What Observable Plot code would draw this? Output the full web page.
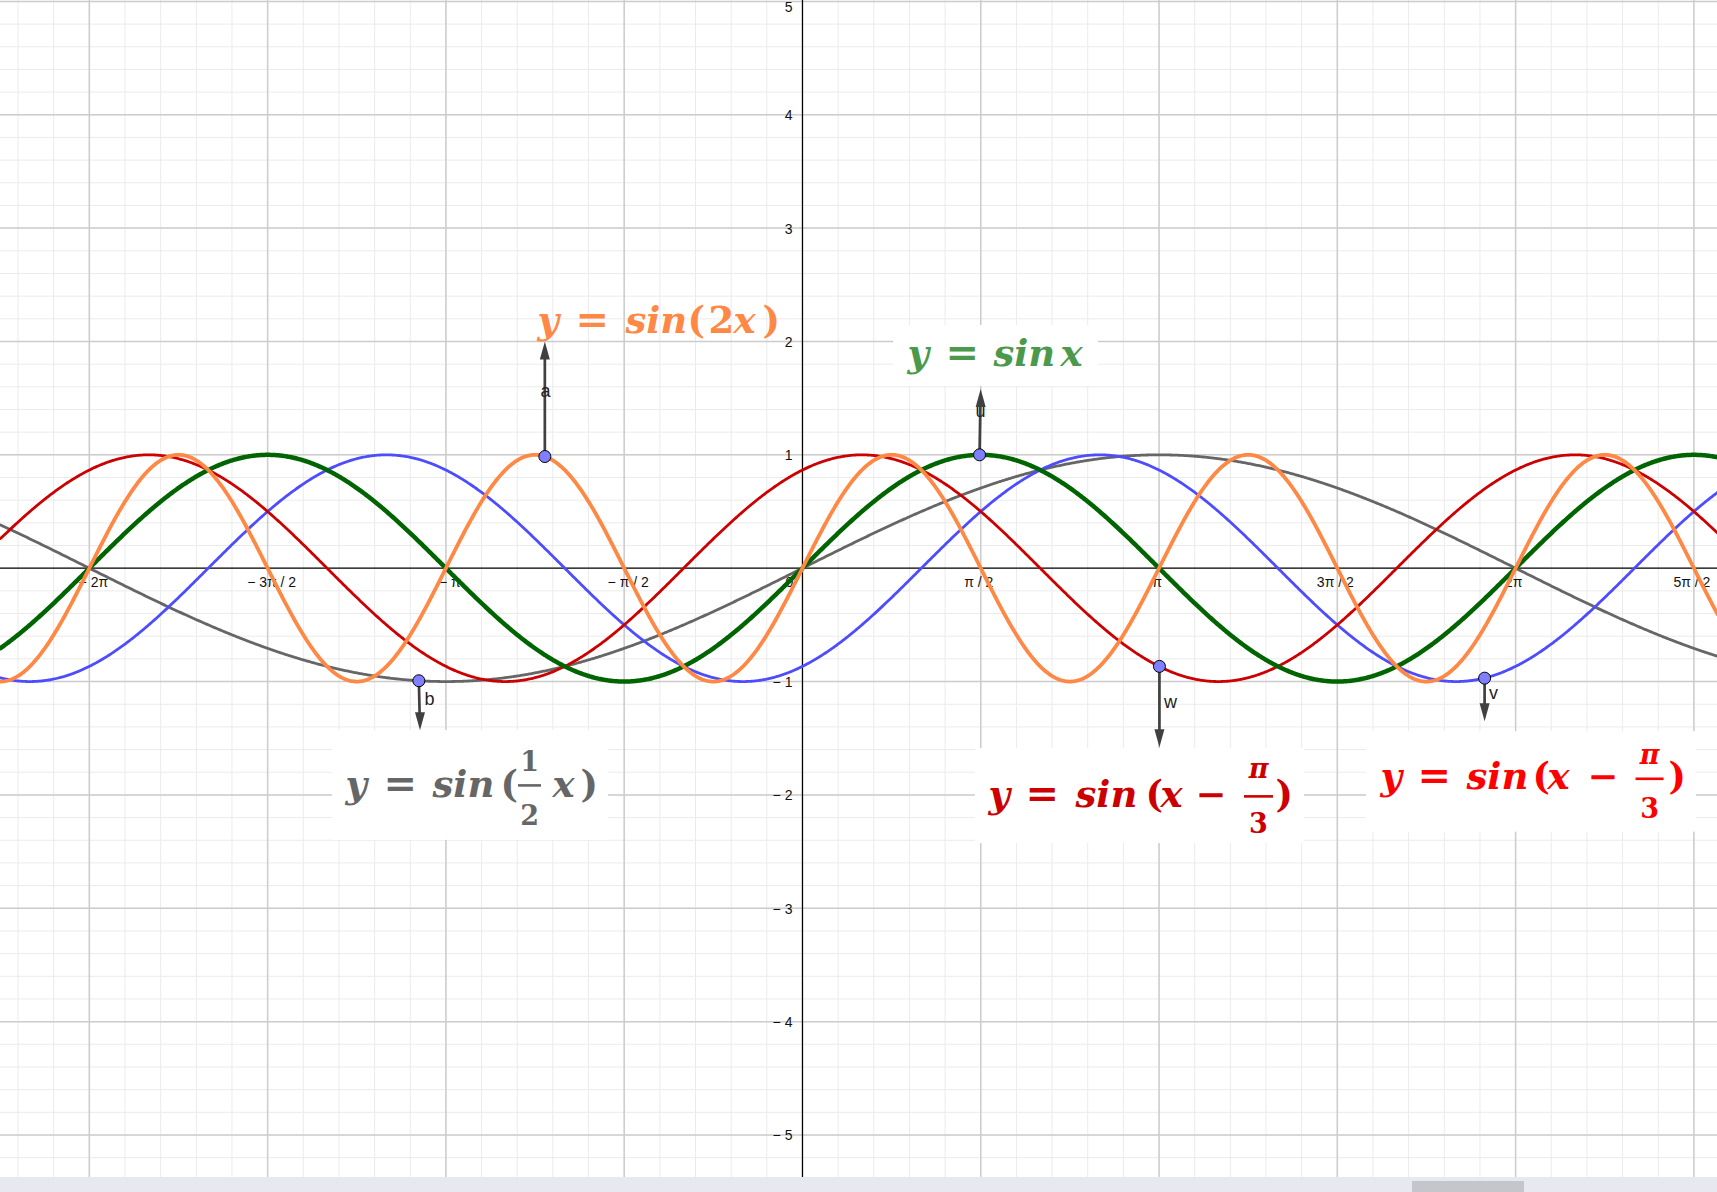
<!DOCTYPE html>
<html><head><meta charset="utf-8">
<script src="https://cdn.jsdelivr.net/npm/d3@7"></script>
<script src="https://cdn.jsdelivr.net/npm/@observablehq/plot@0.6"></script>
<style>
html,body{margin:0;padding:0;background:#fff;overflow:hidden}
#chart svg{display:block}
#bar{position:relative;height:15px;background:#e8e8f0}
#thumb{position:absolute;left:1412px;top:4px;width:112px;height:11px;background:#c5c6cc}
</style></head><body>
<div id="chart"></div><div id="bar"><div id="thumb"></div></div>
<script>
// ---------- data ----------
const curveNames  = ["y = sin(x/2)", "y = sin(x − π/3)", "y = sin(x + π/3)", "y = sin x", "y = sin(2x)"];
const curveFreq   = [0.5, 1, 1, 1, 2];
const curvePhase  = [0, -Math.PI / 3, Math.PI / 3, 0, 0];

const xTickHalfPi = [-4, -3, -2, -1, 1, 2, 3, 4, 5];
const xTickLabels = ["− 2π", "− 3π / 2", "− π", "− π / 2", "π / 2", "π", "3π / 2", "2π", "5π / 2"];
const yTickValues = [4, 3, 2, 1, -1, -2, -3, -4, -5];
const yTickLabels = ["4", "3", "2", "1", "− 1", "− 2", "− 3", "− 4", "− 5"];
const yTopValue = 5;
const yTopLabel = "5";

const vecNames  = ["a", "u", "b", "w", "v"];
const vecX1     = [-2.27, 1.56, -3.38, 3.145, 6.01];
const vecY1     = [0.985, 1.0, -0.993, -0.866, -0.97];
const vecX2     = [-2.27, 1.57, -3.37, 3.145, 6.01];
const vecY2     = [2.0, 1.58, -1.43, -1.58, -1.35];
const vecLabelX = [-2.264, 1.568, -3.286, 3.242, 6.088];
const vecLabelY = [1.559, 1.381, -1.154, -1.182, -1.105];

const formulaTexts = ["y = sin(2x)", "y = sinx", "y = sin(½x)", "y = sin(x − π/3)", "y = sin(x − π/3)"];
const formulaX = [-2.335, 0.925, -4.026, 1.639, 5.093];
const formulaY = [2.071, 1.786, -2.022, -2.110, -1.946];

const boxX1 = [0.802, -4.141, 1.524, 4.969];
const boxX2 = [2.608, -1.709, 4.423, 7.877];
const boxY1 = [1.603, -2.401, -2.429, -2.328];
const boxY2 = [2.141, -1.431, -1.591, -1.442];

// ---------- styles ----------
const curveColors = ["#666666", "#4d4dff", "#cc0000", "#006400", "#ff8845"];
const curveWidths = [2.8, 2.8, 2.8, 4.5, 3.8];
const formulaColors = ["#ff8845", "#4c994c", "#666666", "#cc0000", "#ff0000"];

// piece layouts: [text, dx, dy, kind, width]; kind: i italic, u upright, ni/nu numerator, di/du denominator, bar
const formulaLayouts = [
  [["y",0,0,"i"],["=",38,0,"u"],["sin",88,0,"i"],["(",150,0,"u"],["2",171,0,"u"],["x",196,0,"i"],[")",225,0,"u"]],
  [["y",0,0,"i"],["=",38,0,"u"],["sin",86,0,"i"],["x",153,0,"i"]],
  [["y",0,0,"i"],["=",38,0,"u"],["sin",87,0,"i"],["(",155,0,"u"],["1",184,-26,"nu"],["",184,-12,"bar",23],["2",184,28,"du"],["x",207,0,"i"],[")",235,0,"u"]],
  [["y",0,0,"i"],["=",37,0,"u"],["sin",87,0,"i"],["(",157,0,"u"],["x",172,0,"i"],["−",207,0,"u"],["π",270,-29,"ni"],["",270,-11,"bar",29],["3",270,26,"du"],[")",287,0,"u"]],
  [["y",0,0,"i"],["=",37,0,"u"],["sin",86,0,"i"],["(",152,0,"u"],["x",167,0,"i"],["−",207,0,"u"],["π",269,-25,"ni"],["",269,-10,"bar",28],["3",269,29,"du"],[")",288,0,"u"]]
];

const xDomain = [-7.066, 8.062];
const yDomain = [-5.375, 5.008];

// ---------- derived tables ----------
const curveData = [];
curveNames.forEach((name, i) => {
  const n = 1600;
  for (let k = 0; k <= n; k++) {
    const x = xDomain[0] + (xDomain[1] - xDomain[0]) * k / n;
    curveData.push({name, i, x, y: Math.sin(curveFreq[i] * x + curvePhase[i])});
  }
});
const minorX = d3.range(-22, 26).map(k => k * Math.PI / 10);
const minorY = d3.range(-26, 26).map(k => k * 0.2);
const majorX = d3.range(-4, 6).filter(k => k !== 0).map(k => k * Math.PI / 2);
const majorY = d3.range(-5, 6).filter(k => k !== 0);
const xTicks = xTickHalfPi.map((h, i) => ({x: h * Math.PI / 2, label: xTickLabels[i], neg: h < 0}));
const yTicks = yTickValues.map((v, i) => ({y: v, label: yTickLabels[i]}));
const vecs = vecNames.map((n, i) => ({n, x1: vecX1[i], y1: vecY1[i], x2: vecX2[i], y2: vecY2[i], lx: vecLabelX[i], ly: vecLabelY[i]}));
const boxes = boxX1.map((_, i) => ({x1: boxX1[i], x2: boxX2[i], y1: boxY1[i], y2: boxY2[i]}));

const headUp = {draw(ctx) { ctx.moveTo(0, 0); ctx.lineTo(-5, 18); ctx.lineTo(5, 18); ctx.closePath(); }};
const headDown = {draw(ctx) { ctx.moveTo(0, 0); ctx.lineTo(-5, -18); ctx.lineTo(5, -18); ctx.closePath(); }};
const barSymbol = w => ({draw(ctx) { ctx.rect(-w / 2, -1.3, w, 2.6); }});

const italic = {fontFamily: "DejaVu Serif", fontStyle: "italic", fontWeight: "bold"};
const upright = {fontFamily: "DejaVu Serif", fontStyle: "normal", fontWeight: "bold"};

function formulaMarks(i) {
  const color = formulaColors[i];
  const anchor = [{x: formulaX[i], y: formulaY[i], t: formulaTexts[i]}];
  return formulaLayouts[i].map(([t, dx, dy, kind, w]) => {
    if (kind === "bar") {
      return Plot.dot(anchor, {x: "x", y: "y", dx, dy, r: 3, fill: color, stroke: "none", symbol: barSymbol(w)});
    }
    const frac = kind.length === 2;
    const style = kind.endsWith("i") ? italic : upright;
    return Plot.text(anchor, {x: "x", y: "y", text: () => t, dx, dy, fill: color,
      fontSize: frac ? 27 : (t === "=" ? 40 : 37), textAnchor: frac ? "middle" : "start", lineAnchor: "bottom", ...style});
  });
}

const sans = {fontFamily: "Liberation Sans", fontSize: 14, fill: "#111"};

const plot = Plot.plot({
  width: 1717, height: 1177, margin: 0,
  x: {domain: xDomain, axis: null},
  y: {domain: yDomain, axis: null},
  style: {background: "#fff"},
  marks: [
    Plot.ruleX(minorX, {stroke: "#ebebeb", strokeWidth: 1}),
    Plot.ruleY(minorY, {stroke: "#ebebeb", strokeWidth: 1}),
    Plot.ruleX(majorX, {stroke: "#cccccc", strokeWidth: 1.5}),
    Plot.ruleY(majorY, {stroke: "#cccccc", strokeWidth: 1.5}),
    Plot.rect(boxes, {x1: "x1", x2: "x2", y1: "y1", y2: "y2", fill: "#fff"}),
    Plot.ruleY([0], {stroke: "#000", strokeWidth: 1.3}),
    Plot.ruleX([0], {stroke: "#000", strokeWidth: 1.3}),
    Plot.text(xTicks.filter(d => d.neg), {x: "x", y: () => 0, text: "label", dy: 14, dx: 4, textAnchor: "middle", ...sans}),
    Plot.text(xTicks.filter(d => !d.neg), {x: "x", y: () => 0, text: "label", dy: 14, dx: -2, textAnchor: "middle", ...sans}),
    Plot.text(["0"], {x: () => 0, y: () => 0, text: d => d, dx: -13, dy: 14, textAnchor: "middle", ...sans}),
    Plot.text(yTicks, {x: () => 0, y: "y", text: "label", dx: -10, dy: 1, textAnchor: "end", ...sans}),
    Plot.text([yTopLabel], {x: () => 0, y: () => yTopValue, text: d => d, dx: -10, dy: 1, textAnchor: "end", lineAnchor: "top", ...sans}),
    ...curveNames.map((name, i) => Plot.line(curveData.filter(d => d.i === i), {x: "x", y: "y", stroke: curveColors[i], strokeWidth: curveWidths[i], strokeLinejoin: "round"})),
    Plot.arrow(vecs, {x1: "x1", y1: "y1", x2: "x2", y2: "y2", stroke: "#404040", strokeWidth: 2.7, headLength: 0, insetEnd: 10, strokeLinecap: "butt"}),
    Plot.dot(vecs.filter(d => d.y2 > d.y1), {x: "x2", y: "y2", r: 5, symbol: headUp, fill: "#404040", stroke: "none"}),
    Plot.dot(vecs.filter(d => d.y2 < d.y1), {x: "x2", y: "y2", r: 5, symbol: headDown, fill: "#404040", stroke: "none"}),
    Plot.dot(vecs, {x: "x1", y: "y1", r: 6, fill: "#7f7fff", stroke: "#000", strokeWidth: 1}),
    Plot.text(vecs, {x: "lx", y: "ly", text: "n", fontFamily: "Liberation Sans", fontSize: 18, fill: "#222"}),
    ...formulaTexts.flatMap((_, i) => formulaMarks(i))
  ]
});
document.getElementById("chart").appendChild(plot);
</script>
</body></html>
